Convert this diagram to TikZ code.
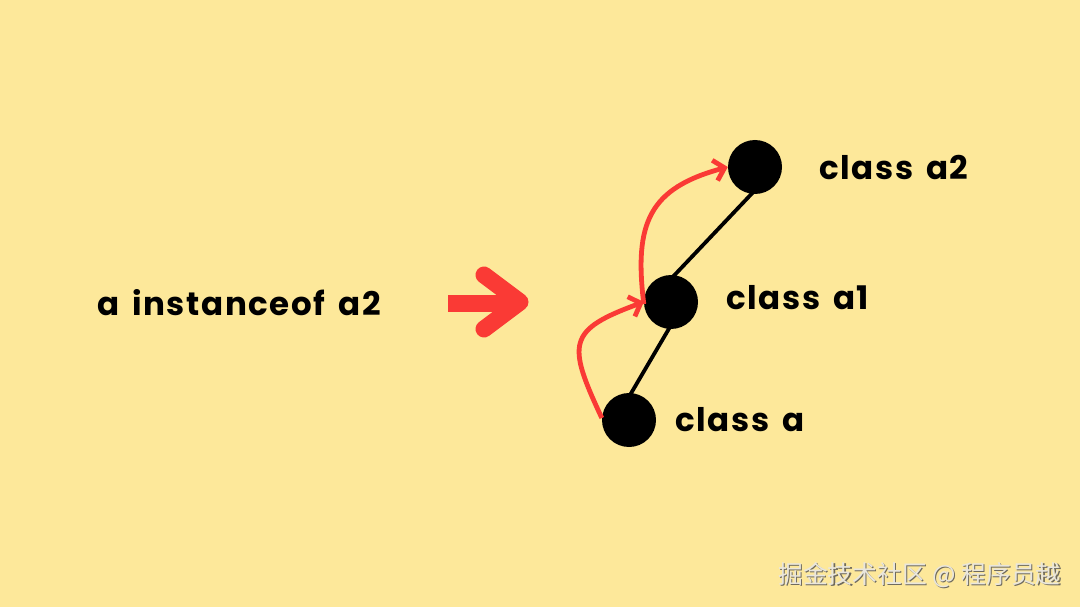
\documentclass[tikz,border=0pt]{standalone}
\usepackage{fontspec}
\setmainfont{Poppins}[LetterSpace=5,WordSpace=1.5]
\newfontfamily\cjk{Noto Sans CJK SC}
\usetikzlibrary{arrows.meta}
\definecolor{bg}{HTML}{FDE89A}
\definecolor{redc}{HTML}{FA3A35}
\definecolor{wm}{HTML}{E9E6DC}
\definecolor{wmshadow}{HTML}{6E6A5E}
\begin{document}
\begin{tikzpicture}[x=1pt,y=-1pt,
  dot/.style={circle,fill=black,minimum size=54pt,inner sep=0pt},
  lbl/.style={anchor=west,font=\fontsize{32.5}{38}\selectfont\bfseries,inner sep=0pt},
  link/.style={line width=3.8pt,black},
  redarrow/.style={line width=4.8pt,redc,-{Straight Barb[length=10pt,width=21pt,line width=4.8pt]}}]
\fill[bg] (0,0) rectangle (1080,607);
\useasboundingbox (0,0) rectangle (1080,607);
\node[dot] (a2) at (755,167) {};
\node[dot] (a1) at (671,302) {};
\node[dot] (a) at (629,420) {};
\draw[link] ([yshift=-4pt]a1.north) -- ([yshift=4pt]a2.south);
\draw[link] ([yshift=-4pt]a.north) -- ([yshift=4pt]a1.south);
\draw[redarrow] ([yshift=2pt]a.west) to[out=115,in=200,looseness=1.7] (a1.west);
\draw[redarrow] ([yshift=-2pt]a1.west) to[out=97,in=195,looseness=1.3] (a2.west);
\node[lbl] (la2) at (819,168) {class a2};
\node[lbl] (la1) at (726,298) {class a1};
\node[lbl] (la) at (675,420) {class a};
\node[lbl] (q) at (97,303) {a instanceof a2};
% big arrow
\coordinate (s0) at (448,303);
\coordinate (s1) at (515,303);
\coordinate (tip) at (520,302);
\coordinate (armT) at (484,275);
\coordinate (armB) at (484,329);
\draw[redc,line width=17pt] (s0) -- (s1);
\draw[redc,line width=17pt,line cap=round,line join=round] (armT) -- (tip) -- (armB);
% watermark
\node[anchor=west,inner sep=0pt,font=\cjk\fontsize{24.8}{28}\selectfont,text=wmshadow] (wms) at (779.3,576.3) {掘金技术社区 @ 程序员越};
\node[anchor=west,inner sep=0pt,font=\cjk\fontsize{24.8}{28}\selectfont,text=wm] (wmt) at (778,575) {掘金技术社区 @ 程序员越};
\end{tikzpicture}
\end{document}
